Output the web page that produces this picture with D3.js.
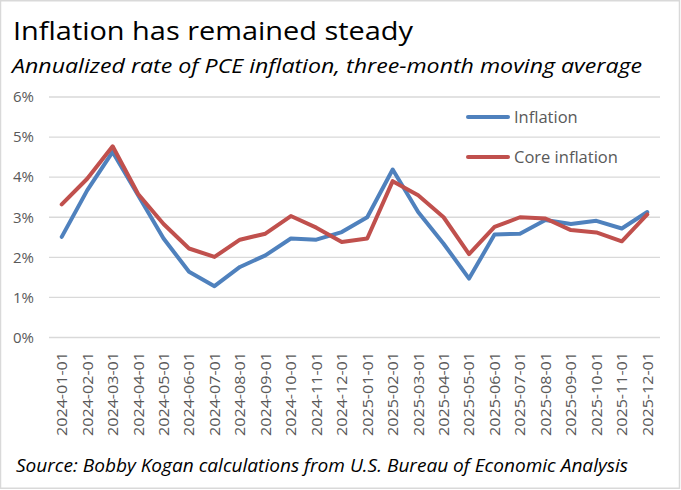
<!DOCTYPE html>
<html>
<head>
<meta charset="utf-8">
<script src="https://cdn.jsdelivr.net/npm/d3@7"></script>
<style>
  body { margin: 0; background: #fff; }
  svg text { font-family: "Open Sans", "Noto Sans", sans-serif; }
</style>
</head>
<body>
<div id="chart"></div>
<script>
// chart data
var months = ["2024-01-01","2024-02-01","2024-03-01","2024-04-01","2024-05-01","2024-06-01",
    "2024-07-01","2024-08-01","2024-09-01","2024-10-01","2024-11-01","2024-12-01",
    "2025-01-01","2025-02-01","2025-03-01","2025-04-01","2025-05-01","2025-06-01",
    "2025-07-01","2025-08-01","2025-09-01","2025-10-01","2025-11-01","2025-12-01"];

var inflation = [2.51, 3.67, 4.63, 3.55, 2.47, 1.64, 1.28, 1.76, 2.05, 2.47, 2.44, 2.63,
    3.00, 4.19, 3.13, 2.34, 1.47, 2.57, 2.59, 2.93, 2.83, 2.91, 2.72, 3.13];

var coreInflation = [3.32, 3.96, 4.77, 3.58, 2.83, 2.22, 2.01, 2.44, 2.59, 3.03, 2.74, 2.38,
    2.47, 3.90, 3.55, 3.00, 2.08, 2.76, 3.00, 2.97, 2.68, 2.62, 2.40, 3.07];

var yTicks = [0, 1, 2, 3, 4, 5, 6];

var seriesNames = ["Inflation", "Core inflation"];
var seriesColors = ["#4f81bd", "#c0504d"];

var width = 681, height = 490;
var plot = { left: 49, right: 660, top: 97, bottom: 337.5 };

var svg = d3.select("#chart").append("svg")
    .attr("width", width)
    .attr("height", height);

// chart area border
svg.append("rect")
    .attr("x", 0.5).attr("y", 0.75)
    .attr("width", 679).attr("height", 487.5)
    .attr("fill", "#fff")
    .attr("stroke", "#d9d9d9")
    .attr("stroke-width", 1.5);

var x = d3.scaleBand()
    .domain(months)
    .range([plot.left, plot.right]);

var y = d3.scaleLinear()
    .domain([0, 6])
    .range([plot.bottom, plot.top]);

// gridlines
svg.append("g").selectAll("line")
    .data(yTicks)
    .enter().append("line")
    .attr("x1", plot.left).attr("x2", plot.right)
    .attr("y1", function(d) { return y(d); })
    .attr("y2", function(d) { return y(d); })
    .attr("stroke", "#d9d9d9")
    .attr("stroke-width", 1.3);

// y axis labels
svg.append("g").selectAll("text")
    .data(yTicks)
    .enter().append("text")
    .attr("x", 34)
    .attr("y", function(d) { return y(d); })
    .attr("dy", "0.35em")
    .attr("text-anchor", "end")
    .attr("fill", "#595959")
    .style("font-size", "15px")
    .text(function(d) { return d + "%"; });

// x axis labels, rotated
svg.append("g").selectAll("text")
    .data(months)
    .enter().append("text")
    .attr("transform", function(d) {
        return "translate(" + (x(d) + x.bandwidth() / 2) + ",352) rotate(-90)";
    })
    .attr("dy", "0.36em")
    .attr("text-anchor", "end")
    .attr("fill", "#595959")
    .style("font-size", "15px")
    .attr("textLength", 84)
    .attr("lengthAdjust", "spacingAndGlyphs")
    .text(function(d) { return d; });

// lines
var line = d3.line()
    .x(function(d, i) { return x(months[i]) + x.bandwidth() / 2; })
    .y(function(d) { return y(d); });

[inflation, coreInflation].forEach(function(s, i) {
    svg.append("path")
        .datum(s)
        .attr("d", line)
        .attr("fill", "none")
        .attr("stroke", seriesColors[i])
        .attr("stroke-width", 4)
        .attr("stroke-linejoin", "round")
        .attr("stroke-linecap", "round");
});

// legend
var legend = svg.append("g").selectAll("g")
    .data(seriesNames)
    .enter().append("g")
    .attr("transform", function(d, i) { return "translate(468," + (117 + i * 40) + ")"; });

legend.append("line")
    .attr("x1", 0).attr("x2", 40)
    .attr("stroke", function(d, i) { return seriesColors[i]; })
    .attr("stroke-width", 4)
    .attr("stroke-linecap", "round");

legend.append("text")
    .attr("x", 46)
    .attr("dy", "0.36em")
    .attr("fill", "#595959")
    .style("font-size", "16.5px")
    .text(function(d) { return d; });

// titles
svg.append("text")
    .attr("x", 13).attr("y", 40)
    .attr("fill", "#000")
    .style("font-size", "26px")
    .attr("textLength", 400)
    .attr("lengthAdjust", "spacingAndGlyphs")
    .text("Inflation has remained steady");

svg.append("text")
    .attr("x", 12).attr("y", 73)
    .attr("fill", "#000")
    .style("font-size", "20.5px")
    .style("font-style", "italic")
    .attr("textLength", 630)
    .attr("lengthAdjust", "spacingAndGlyphs")
    .text("Annualized rate of PCE inflation, three-month moving average");

svg.append("text")
    .attr("x", 16).attr("y", 472)
    .attr("fill", "#000")
    .style("font-size", "17.5px")
    .style("font-style", "italic")
    .attr("textLength", 612)
    .attr("lengthAdjust", "spacingAndGlyphs")
    .text("Source: Bobby Kogan calculations from U.S. Bureau of Economic Analysis");
</script>
</body>
</html>
